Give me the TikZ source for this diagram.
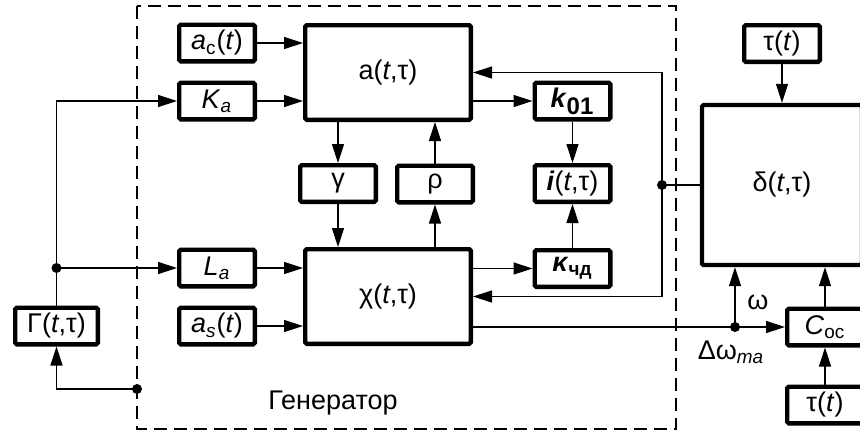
\documentclass[tikz,border=0pt]{standalone}
\usepackage{fontspec}
\setmainfont{Liberation Sans}
\usetikzlibrary{arrows.meta}

\tikzset{
  blk/.style={draw, line width=2.2pt, rounded corners=0.8pt, minimum width=37.8pt, minimum height=18.3pt, inner sep=0pt},
  bigblk/.style={blk, minimum width=82.8pt, minimum height=47.3pt},
  ln/.style={line width=0.7pt},
  arr/.style={ln, -{Triangle[length=9.5pt,width=6pt]}},
  dot/.style={circle, fill, inner sep=0pt, minimum size=5pt}
}

\begin{document}
\begin{tikzpicture}[x=0.5pt,y=-0.5pt,font=\fontsize{13.5}{16}\selectfont]
    \clip (0,0) rectangle (860,434);
    \draw[line width=0.9pt, dash pattern=on 6.5pt off 3.5pt] (137,6) rectangle (676,429);
    \node at (333,403) {Генератор};

    % generator blocks
    \node[blk] (ac) at (217,43) {\textit{a}\textsubscript{c}(\textit{t})};
    \node[blk] (ka) at (217,101) {\textit{K}\textsubscript{\textit{a}}};
    \node[blk] (la) at (217,268) {\textit{L}\textsubscript{\textit{a}}};
    \node[blk] (as) at (217,326) {\textit{a}\textsubscript{\textit{s}}(\textit{t})};
    \node[bigblk] (a) at (388,72.5) {a(\textit{t},τ)};
    \node[bigblk] (chi) at (388,296.5) {χ(\textit{t},τ)};
    \node[blk] (g) at (338,183.5) {γ};
    \node[blk] (rho) at (435,184) {ρ};
    \node[blk] (k01) at (572.5,101) {\textbf{\textit{k}\textsubscript{\large 01}}};
    \node[blk] (i) at (572.5,183.5) {\textbf{\textit{i}}(\textit{t},τ)};
    \node[blk] (kchd) at (572.5,268.5) {\textbf{\textit{κ}\textsubscript{чд}}};

    % outside blocks
    \node[blk, minimum width=41.3pt] (gam) at (56.5,326) {Γ(\textit{t},τ)};
    \node[blk] (tau1) at (782,43.5) {τ(\textit{t})};
    \node[blk, minimum width=80pt, minimum height=80pt] (delta) at (782,185) {δ(\textit{t},τ)};
    \node[blk] (coc) at (825,327) {\textit{C}\textsubscript{ос}};
    \node[blk] (tau2) at (825,405) {τ(\textit{t})};

    \draw[arr] (ac.east) -- (ac.east -| a.west);
    \draw[arr] (ka.east) -- (ka.east -| a.west);
    \draw[arr] (la.east) -- (la.east -| chi.west);
    \draw[arr] (as.east) -- (as.east -| chi.west);
    \draw[arr] (a.south -| g.north) -- (g.north);
    \draw[arr] (g.south) -- (g.south |- chi.north);
    \draw[arr] (chi.north -| rho.south) -- (rho.south);
    \draw[arr] (rho.north) -- (rho.north |- a.south);
    \draw[arr] (k01.west -| a.east) -- (k01.west);
    \draw[arr] (k01.south) -- (i.north);
    \draw[arr] (kchd.north) -- (i.south);
    \draw[arr] (kchd.west -| chi.east) -- (kchd.west);

    % feedback from delta
    \coordinate (fb) at (662,185);
    \draw[ln] (delta.west) -- (fb);
    \draw[arr] (fb) |- (a.east);
    \draw[arr] (fb) |- (chi.east);
    \node[dot] at (fb) {};

    % output of chi
    \coordinate (om) at (735,327);
    \draw[arr] (chi.east |- coc.west) -- (coc.west);
    \draw[arr] (om) -- (om |- delta.south);
    \node[dot] at (om) {};
    \node at (758,302) {ω};
    \node at (731,352) {Δω\textsubscript{\textit{ma}}};
    \draw[arr] (coc.north) -- (coc.north |- delta.south);
    \draw[arr] (tau2.north) -- (coc.south);
    \draw[arr] (tau1.south) -- (tau1.south |- delta.north);

    % gamma loop
    \coordinate (sp) at (56.5,268);
    \coordinate (gin) at (137,389);
    \draw[arr] (gam.north) |- (ka.west);
    \draw[arr] (sp) -- (la.west);
    \draw[arr] (gin) -| (gam.south);
    \node[dot] at (sp) {};
    \node[dot] at (gin) {};
\end{tikzpicture}
\end{document}
